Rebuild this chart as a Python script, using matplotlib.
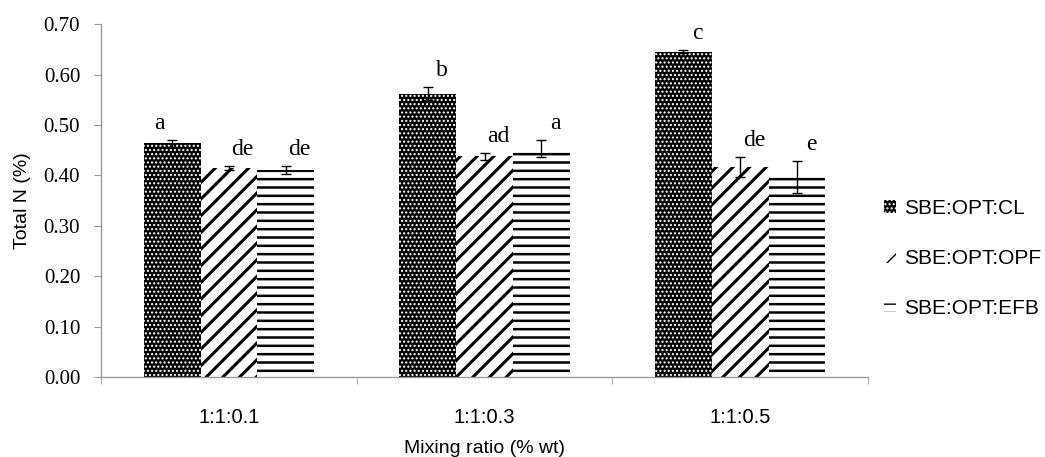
import numpy as np
import matplotlib
matplotlib.use("Agg")
import matplotlib.pyplot as plt

ratios = ["1:1:0.1", "1:1:0.3", "1:1:0.5"]
series = ["SBE:OPT:CL", "SBE:OPT:OPF", "SBE:OPT:EFB"]
values = [
    [0.464, 0.562, 0.645],   # CL
    [0.415, 0.438, 0.416],   # OPF
    [0.411, 0.453, 0.397],   # EFB
]
errors = [
    [0.007, 0.013, 0.003],
    [0.004, 0.007, 0.020],
    [0.008, 0.017, 0.031],
]
letters = [
    ["a", "b", "c"],
    ["de", "ad", "de"],
    ["de", "a", "e"],
]

# bar looks: face, hatch colour, hatch, hatch line width
styles = [
    ("black", "white", "....", 1.0),
    ("white", "black", "//", 2.2),
    ("white", "black", "--", 1.8),
]

fig = plt.figure(figsize=(10.45, 4.57), dpi=100)
ax = fig.add_axes([0.0967, 0.1750, 0.7340, 0.7720])

x = np.arange(len(ratios))
w = 0.222
handles = []
for j, name in enumerate(series):
    face, hcol, hatch, hlw = styles[j]
    with plt.rc_context({"hatch.linewidth": hlw}):
        bars = ax.bar(x + (j - 1) * w, values[j], w, color=face, edgecolor=hcol,
                      hatch=hatch, linewidth=0, label=name, zorder=2)
        for b in bars:
            if hasattr(b, "set_hatch_linewidth"):
                b.set_hatch_linewidth(hlw)
    handles.append(bars)
    ax.errorbar(x + (j - 1) * w, values[j], yerr=errors[j], fmt="none",
                ecolor="black", elinewidth=1, capsize=3.5, capthick=1, zorder=3)
    for i in range(len(ratios)):
        dx = 10 if not (i == 0 and j == 0) else -9
        ax.annotate(letters[j][i], (x[i] + (j - 1) * w, values[j][i] + errors[j][i]),
                    xytext=(dx, 8), textcoords="offset points", ha="center",
                    va="baseline", fontsize=17, family="Liberation Serif")

ax.set_xlim(-0.5, 2.5)
ax.set_ylim(0, 0.70)
ax.set_yticks(np.arange(0, 0.71, 0.1))
ax.set_yticklabels([f"{v:.2f}" for v in np.arange(0, 0.71, 0.1)],
                   family="Liberation Serif", fontsize=15)
ax.set_xticks(x)
ax.set_xticklabels(ratios, family="Liberation Sans", fontsize=14.5)
ax.set_xticks([-0.5, 0.5, 1.5, 2.5], minor=True)
ax.tick_params(axis="x", which="major", length=0, pad=22)
ax.tick_params(axis="x", which="minor", length=5, color="#999999", direction="out")
ax.tick_params(axis="y", length=5, color="#999999", direction="out", pad=10)

for s in ["top", "right"]:
    ax.spines[s].set_visible(False)
for s in ["left", "bottom"]:
    ax.spines[s].set_color("#999999")
    ax.spines[s].set_linewidth(1)

ax.set_ylabel("Total N (%)", family="Liberation Sans", fontsize=14, labelpad=9)
ax.set_xlabel("Mixing ratio (% wt)", family="Liberation Sans", fontsize=14, labelpad=10)

fig.legend(handles=handles, labels=series, loc="center left",
           bbox_to_anchor=(0.846, 0.435), frameon=False,
           prop={"family": "Liberation Sans", "size": 15},
           handlelength=0.55, handleheight=0.55, handletextpad=0.4,
           labelspacing=1.48, borderpad=0, borderaxespad=0)

fig.savefig("out.png", dpi=100)
